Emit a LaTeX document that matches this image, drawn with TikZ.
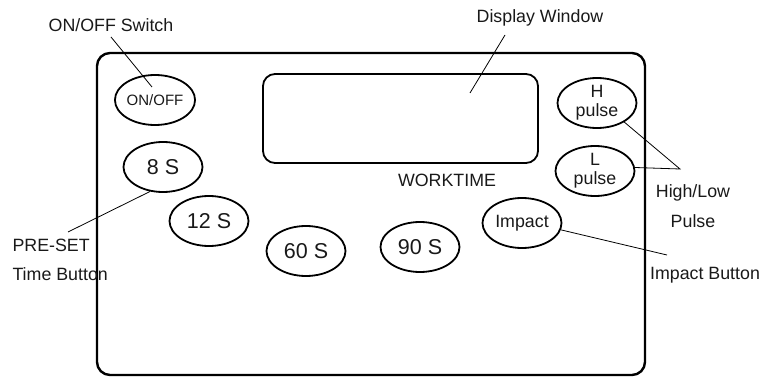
\documentclass[tikz,border=0pt]{standalone}
\usepackage{fontspec}
\setmainfont{Liberation Sans}
\usetikzlibrary{shapes.geometric}

\begin{document}
\begin{tikzpicture}[
  x=1pt, y=-1pt,
  every node/.style={
    text=black!90,
    font=\fontsize{17.8}{19}\selectfont},
  button/.style={
    draw, ellipse,
    line width=1.8pt,
    inner sep=0pt,
    align=center,
    minimum width=79pt,
    minimum height=50pt},
  callout/.style={align=left},
  leader/.style={line width=0.8pt}
  ]
    \useasboundingbox (0,0) rectangle (764,377);
    % housing
    \draw[line width=2.4pt, rounded corners=13pt] (97,53) rectangle (645,375);
    \node[draw, line width=1.8pt, rounded corners=12pt, minimum width=275pt,
          minimum height=89pt, inner sep=0pt] (display) at (400.5,118.5) {};
    \node (worktime) at (447,180) {WORKTIME};
    % buttons
    \node[button, font=\fontsize{15}{17}\selectfont] (onoff) at (155,100) {ON/OFF};
    \node[button, font=\fontsize{21.5}{23}\selectfont] (s8)  at (163,167) {8 S};
    \node[button, font=\fontsize{21.5}{23}\selectfont] (s12) at (209,221) {12 S};
    \node[button, font=\fontsize{21.5}{23}\selectfont] (s60) at (306,251) {60 S};
    \node[button, font=\fontsize{21.5}{23}\selectfont] (s90) at (420,247) {90 S};
    \node[button] (impact) at (522,223) {Impact};
    \node[button] (hpulse) at (597,103) {H\\pulse};
    \node[button] (lpulse) at (595,171) {L\\pulse};
    % labels
    \node (lonoff) at (111,25) {ON/OFF Switch};
    \node (ldisplay) at (540,18) {Display Window};
    \node[callout, anchor=west] (lpreset) at (9,245) {PRE-SET};
    \node[callout, anchor=west] (ltime) at (9,274) {Time Button};
    \node (lhigh) at (693,193) {High/Low};
    \node (lpulse2) at (693,221) {Pulse};
    \node (limpact) at (705,275) {Impact Button};
    % leader ends
    \coordinate (conoff) at (152,87);
    \coordinate (cdisplay) at (470,93);
    \coordinate (cpreset) at (68,232);
    \coordinate (chl) at (680,169);
    \coordinate (cimpact) at (667,255);
    \draw[leader] (111,37) -- (conoff);
    \draw[leader] (505,35) -- (cdisplay);
    \draw[leader] (s8.-118) -- (cpreset);
    \draw[leader] (hpulse.-35) -- (chl) -- (lpulse.5);
    \draw[leader] (impact.-10) -- (cimpact);
\end{tikzpicture}
\end{document}
